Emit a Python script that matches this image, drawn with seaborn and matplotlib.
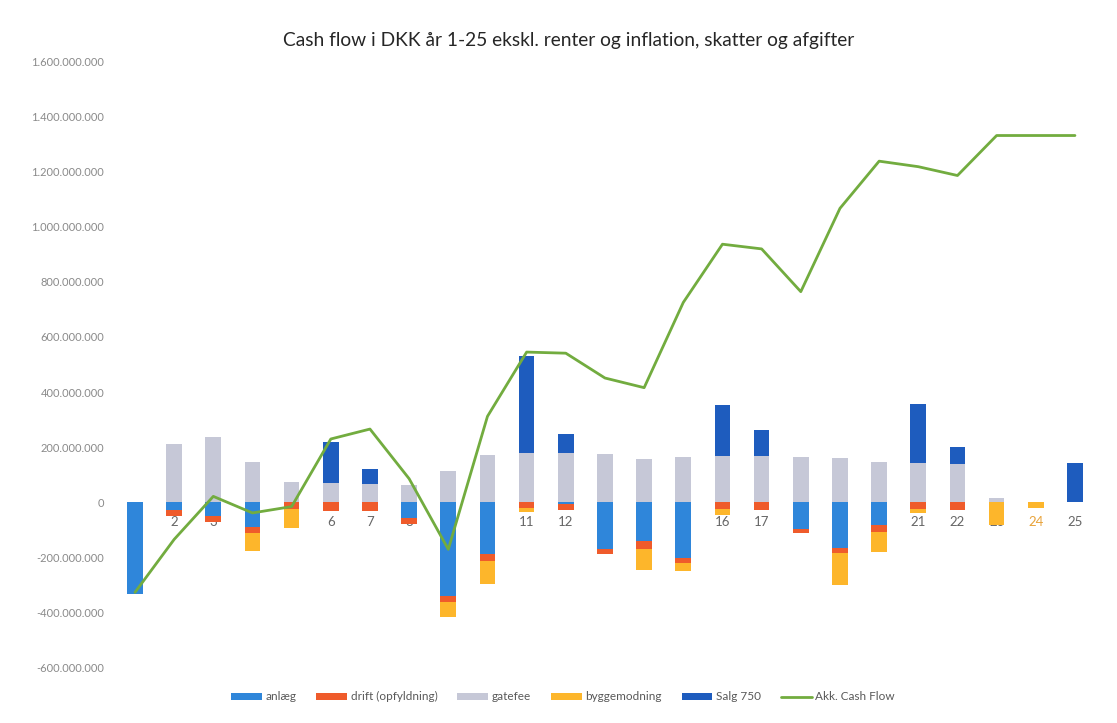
import numpy as np
import pandas as pd
import matplotlib
matplotlib.use("Agg")
import matplotlib.pyplot as plt
import seaborn as sns
from matplotlib.patches import Patch
from matplotlib.lines import Line2D
from matplotlib.ticker import FuncFormatter

# ---------------- data (million DKK) ----------------
years = [str(i) for i in range(1, 26)]
anlaeg = [-333, -28, -50, -88, 0, 0, 0, -55, -338, -187, 0, -6, -169, -141, -202,
          0, 0, -95, -164, -82, 0, 0, 0, 0, 0]
drift = [0, -22, -22, -22, -23, -30, -30, -24, -24, -27, -20, -20, -19, -28, -16,
         -25, -28, -14, -20, -24, -25, -28, 0, 0, 0]
gatefee = [0, 213, 238, 146, 73, 69, 68, 63, 115, 173, 178, 179, 175, 159, 163,
           167, 167, 164, 160, 148, 144, 141, 17, 0, 0]
byggemodning = [0, 0, 0, -66, -68, 0, 0, 0, -54, -80, -14, 0, 0, -76, -30,
                -20, 0, 0, -117, -72, -12, 0, -80, -20, 0]
salg750 = [0, 0, 0, 0, 0, 149, 54, 0, 0, 0, 353, 68, 0, 0, 0,
           188, 94, 0, 0, 0, 214, 61, 0, 0, 142]
akk_cash = [-326, -134, 22, -38, -15, 230, 266, 86, -170, 312, 545, 541, 451, 416, 725,
            936, 919, 764, 1066, 1237, 1217, 1185, 1330, 1330, 1330]

series_names = ["anlæg", "drift (opfyldning)", "gatefee", "byggemodning", "Salg 750", "Akk. Cash Flow"]
title = "Cash flow i DKK år 1-25 ekskl. renter og inflation, skatter og afgifter"

M = 1e6
df = pd.DataFrame({
    "year": years,
    "anlaeg": np.array(anlaeg) * M,
    "drift": np.array(drift) * M,
    "gatefee": np.array(gatefee) * M,
    "bygg": np.array(byggemodning) * M,
    "salg": np.array(salg750) * M,
    "akk": np.array(akk_cash) * M,
})
# cumulative stacks (drawn largest first, overlapping)
df["pos_top"] = df["gatefee"] + df["salg"]
df["neg_ad"] = df["anlaeg"] + df["drift"]
df["neg_all"] = df["neg_ad"] + df["bygg"]

c_anlaeg = "#2F86DA"
c_drift = "#EF5B2B"
c_gate = "#C6C8D7"
c_bygg = "#FDB62B"
c_salg = "#1E5CBE"
c_akk = "#72AC3F"

sns.set_theme(style="white")
plt.rcParams["font.family"] = ["Lato", "DejaVu Sans"]

fig = plt.figure(figsize=(11.17, 7.23), dpi=100)
ax = fig.add_axes([0.1033, 0.0761, 0.8766, 0.8395])

w = 0.40
common = dict(x="year", order=years, width=w, ax=ax, saturation=1, zorder=2,
              edgecolor="none", linewidth=0)
sns.barplot(data=df, y="pos_top", color=c_salg, **common)
sns.barplot(data=df, y="gatefee", color=c_gate, **common)
sns.barplot(data=df, y="neg_all", color=c_bygg, **common)
sns.barplot(data=df, y="neg_ad", color=c_drift, **common)
sns.barplot(data=df, y="anlaeg", color=c_anlaeg, **common)

sns.lineplot(x=np.arange(len(years)), y=df["akk"].values, color=c_akk, lw=2.0,
             ax=ax, zorder=4, sort=False)

ax.set_xlim(-0.5, len(years) - 0.5)
ax.set_ylim(-600 * M, 1600 * M)
ax.set_yticks(np.arange(-600, 1601, 200) * M)
ax.yaxis.set_major_formatter(FuncFormatter(lambda v, p: f"{int(round(v)):,}".replace(",", ".")))
ax.tick_params(axis="y", labelsize=8, colors="#8A8A8A", length=0, pad=8)
ax.set_xticks([])
ax.set_xlabel("")
ax.set_ylabel("")
for s in ax.spines.values():
    s.set_visible(False)

# category labels along zero line (behind the bars, as in Excel)
for i, lab in enumerate(years):
    col = "#E8A33A" if lab == "24" else "#666666"
    ax.text(i, -72 * M, lab, ha="center", va="center", fontsize=9.5,
            color=col, zorder=1)

fig.text(0.509, 0.944, title, ha="center", va="center", fontsize=13.8, color="#262626")

handles = [
    Patch(facecolor=c_anlaeg, edgecolor="none"),
    Patch(facecolor=c_drift, edgecolor="none"),
    Patch(facecolor=c_gate, edgecolor="none"),
    Patch(facecolor=c_bygg, edgecolor="none"),
    Patch(facecolor=c_salg, edgecolor="none"),
    Line2D([0], [0], color=c_akk, lw=2),
]
leg = fig.legend(handles, series_names, loc="center", bbox_to_anchor=(0.504, 0.036),
                 ncol=6, frameon=False, fontsize=8.5, handlelength=2.6, handleheight=0.6,
                 handletextpad=0.3, columnspacing=1.7)
for t in leg.get_texts():
    t.set_color("#595959")

fig.savefig("out.png", dpi=100)
